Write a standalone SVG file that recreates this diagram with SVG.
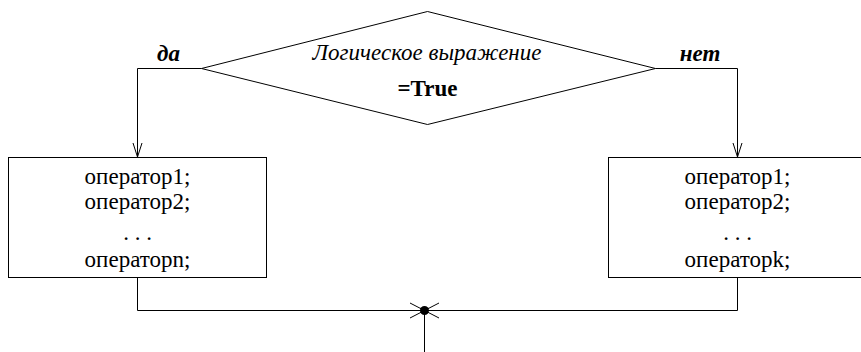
<svg xmlns="http://www.w3.org/2000/svg" width="861" height="352" viewBox="0 0 861 352">
<style>
  .ln { fill: none; stroke: #000; stroke-width: 1; }
  .box { fill: #fff; stroke: #000; stroke-width: 1; }
</style>
<rect width="861" height="352" fill="#fff"/>
<g id="connectors">
  <polyline class="ln" points="201.5,68.5 137.5,68.5 137.5,157"/>
  <polyline class="ln" points="133,143 137.5,157 142,143"/>
  <polyline class="ln" points="655.5,68.5 737.5,68.5 737.5,157"/>
  <polyline class="ln" points="733,143 737.5,157 742,143"/>
  <polyline class="ln" points="137.5,277.5 137.5,310.5 424.5,310.5"/>
  <polyline class="ln" points="737.5,277.5 737.5,310.5 424.5,310.5"/>
  <line class="ln" x1="424.5" y1="310.5" x2="424.5" y2="352"/>
  <line class="ln" x1="410" y1="303" x2="439" y2="318"/>
  <line class="ln" x1="410" y1="318" x2="439" y2="303"/>
  <circle cx="424.5" cy="310.5" r="4.5" fill="#000"/>
  <g font-family="Liberation Serif, serif" font-size="23" font-style="italic" font-weight="bold" text-anchor="middle">
    <text x="168.5" y="61">да</text>
    <text x="700" y="61">нет</text>
  </g>
</g>
<g id="condition" font-family="Liberation Serif, serif" font-size="23" text-anchor="middle">
  <polygon class="box" points="201.5,68.5 427.5,11.5 655.5,68.5 427.5,124.5"/>
  <text x="427" y="60" font-style="italic">Логическое выражение</text>
  <text x="427.5" y="96" font-weight="bold">=True</text>
</g>
<g id="branch-yes" font-family="Liberation Serif, serif" font-size="23" text-anchor="middle">
  <rect class="box" x="8.5" y="157.5" width="258" height="120"/>
  <text x="137.5" y="184">оператор1;</text>
  <text x="137.5" y="209">оператор2;</text>
  <text x="137.5" y="240">. . .</text>
  <text x="137.5" y="266.5">операторn;</text>
</g>
<g id="branch-no" font-family="Liberation Serif, serif" font-size="23" text-anchor="middle">
  <rect class="box" x="608.5" y="157.5" width="258" height="120"/>
  <text x="737.5" y="184">оператор1;</text>
  <text x="737.5" y="209">оператор2;</text>
  <text x="737.5" y="240">. . .</text>
  <text x="737.5" y="266.5">операторk;</text>
</g>
</svg>
